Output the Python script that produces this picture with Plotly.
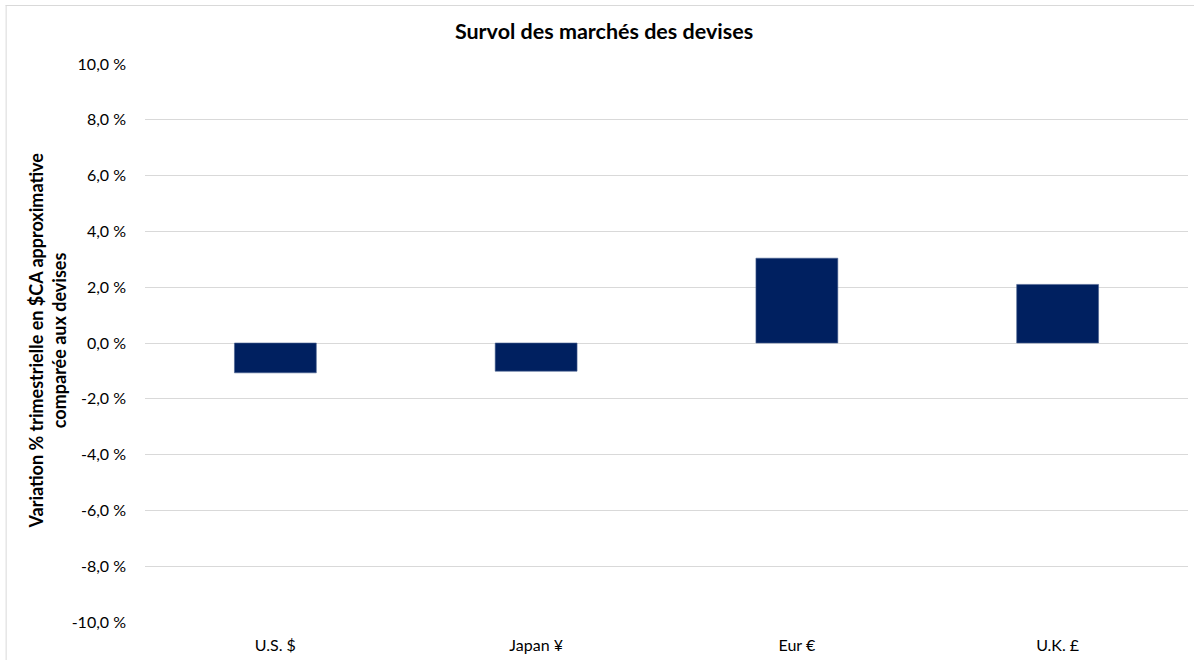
import plotly.graph_objects as go

categories = ["U.S. $", "Japan ¥", "Eur €", "U.K. £"]
values = [-1.07, -1.01, 3.04, 2.10]
tick_vals = [-10, -8, -6, -4, -2, 0, 2, 4, 6, 8, 10]
tick_text = ["-10,0 %", "-8,0 %", "-6,0 %", "-4,0 %", "-2,0 %", "0,0 %",
             "2,0 %", "4,0 %", "6,0 %", "8,0 %", "10,0 %"]

FONT = "Lato, 'Open Sans', sans-serif"

PL, PR, PT, PB = 144.5, 1188.5, 64, 622
PW, PH = PR - PL, PB - PT

fig = go.Figure()
fig.add_trace(go.Bar(
    x=categories, y=values,
    marker=dict(color="#002060", line=dict(color="#4a6191", width=0.6)),
    width=0.314,
    hoverinfo="x+y",
))

fig.update_layout(
    width=1194, height=660,
    margin=dict(l=PL, r=1194 - PR, t=PT, b=660 - PB),
    paper_bgcolor="white", plot_bgcolor="white",
    showlegend=False,
    title=dict(text="<b>Survol des marchés des devises</b>",
               x=604 / 1194, xanchor="center", y=1 - 31 / 660, yanchor="middle",
               font=dict(family=FONT, size=21.5, color="#000000")),
    font=dict(family=FONT, size=16, color="#000000"),
    xaxis=dict(showgrid=False, showline=False, zeroline=False,
               ticks="", ticklabelstandoff=12,
               tickfont=dict(size=16, color="#000000")),
    yaxis=dict(range=[-10, 10], tickvals=tick_vals, ticktext=tick_text,
               showgrid=True, gridcolor="#d9d9d9", gridwidth=1,
               zeroline=False, showline=False, ticks="",
               ticklabelstandoff=18,
               tickfont=dict(size=16, color="#000000")),
    annotations=[dict(
        text="<b>Variation % trimestrielle en $CA approximative<br>comparée aux devises</b>",
        xref="paper", yref="paper", x=(46 - PL) / PW, y=(PB - 341) / PH,
        xanchor="center", yanchor="middle", textangle=-90, showarrow=False,
        font=dict(family=FONT, size=18, color="#000000"),
    )],
    shapes=[
        dict(type="line", xref="paper", yref="paper",
             x0=(5 - PL) / PW, x1=1.2, y0=(PB - 5.5) / PH, y1=(PB - 5.5) / PH,
             line=dict(color="#d9d9d9", width=1)),
        dict(type="line", xref="paper", yref="paper",
             x0=(5.5 - PL) / PW, x1=(5.5 - PL) / PW, y0=(PB - 5) / PH, y1=-0.2,
             line=dict(color="#d9d9d9", width=1)),
    ],
)

fig.write_html("out.html",
               config={"displayModeBar": False},
               post_script="document.body.style.margin='0px';document.body.style.padding='0px';")
